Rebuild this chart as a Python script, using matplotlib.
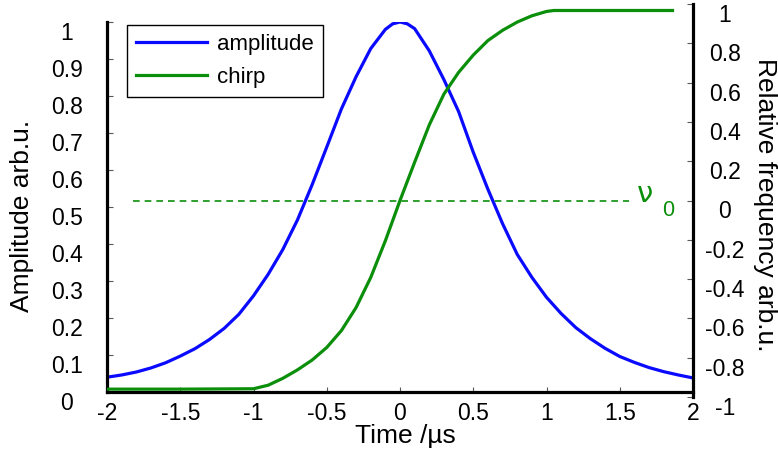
import matplotlib
matplotlib.use("Agg")
import matplotlib.pyplot as plt

# amplitude pulse (left axis)
time_amp = [-2.0, -1.9, -1.8, -1.7, -1.6, -1.5, -1.4, -1.3, -1.2, -1.1, -1.0,
            -0.9, -0.8, -0.7, -0.6, -0.5, -0.4, -0.3, -0.2, -0.1, -0.05, 0.0,
            0.05, 0.1, 0.2, 0.3, 0.4, 0.5, 0.6, 0.7, 0.8, 0.9, 1.0,
            1.1, 1.2, 1.3, 1.4, 1.5, 1.6, 1.7, 1.8, 1.9, 2.0]
amplitude = [0.040, 0.046, 0.054, 0.065, 0.079, 0.097, 0.117, 0.142, 0.172, 0.210, 0.260,
             0.318, 0.385, 0.465, 0.560, 0.662, 0.765, 0.852, 0.928, 0.980, 0.995, 1.000,
             0.995, 0.982, 0.922, 0.844, 0.758, 0.648, 0.548, 0.455, 0.372, 0.310, 0.256,
             0.212, 0.174, 0.144, 0.118, 0.096, 0.080, 0.066, 0.055, 0.046, 0.038]

# chirp (right axis)
time_chirp = [-2.0, -1.5, -1.0, -0.9, -0.8, -0.7, -0.6, -0.5, -0.4, -0.3, -0.2, -0.1, 0.0,
              0.1, 0.2, 0.3, 0.4, 0.5, 0.6, 0.7, 0.8, 0.9, 1.0, 1.05, 1.86]
chirp = [-0.960, -0.960, -0.958, -0.940, -0.905, -0.862, -0.812, -0.748, -0.662, -0.545,
         -0.392, -0.205, 0.000, 0.195, 0.385, 0.542, 0.652, 0.740, 0.814, 0.866, 0.908,
         0.940, 0.962, 0.967, 0.967]

x_ticks = [-2, -1.5, -1, -0.5, 0, 0.5, 1, 1.5, 2]
x_labels = ["-2", "-1.5", "-1", "-0.5", "0", "0.5", "1", "1.5", "2"]
left_ticks = [0, 0.1, 0.2, 0.3, 0.4, 0.5, 0.6, 0.7, 0.8, 0.9, 1]
left_labels = ["0", "0.1", "0.2", "0.3", "0.4", "0.5", "0.6", "0.7", "0.8", "0.9", "1"]
right_ticks = [-1, -0.8, -0.6, -0.4, -0.2, 0, 0.2, 0.4, 0.6, 0.8, 1]
right_labels = ["-1", "-0.8", "-0.6", "-0.4", "-0.2", "0", "0.2", "0.4", "0.6", "0.8", "1"]

blue = "#0a0aff"
green = "#0b8f0b"

plt.rcParams["font.family"] = ["Liberation Sans", "DejaVu Sans"]
plt.rcParams["axes.unicode_minus"] = False

W, H = 778, 459
fig = plt.figure(figsize=(W / 100, H / 100), dpi=100)


def box(l, t, r, b):
    return [l / W, 1 - b / H, (r - l) / W, (b - t) / H]


ax1 = fig.add_axes(box(107, 22, 693, 392))
ax2 = fig.add_axes(box(107, 4, 693, 397))
ax2.patch.set_visible(False)

l1, = ax1.plot(time_amp, amplitude, color=blue, lw=2.3, label="amplitude")
l2, = ax2.plot(time_chirp, chirp, color=green, lw=2.3, label="chirp")
ax2.hlines(0, -1.82, 1.56, colors=green, lw=1.2, linestyles=(0, (4, 3)))

ax2.text(1.618, -0.007, "\u03bd", color=green, fontsize=21, family="DejaVu Sans",
         va="baseline", ha="left")
ax2.text(1.79, -0.081, "0", color=green, fontsize=15.5, va="baseline", ha="left")

for ax in (ax1, ax2):
    ax.set_xlim(-2, 2)
ax1.set_ylim(0, 1)
ax2.set_ylim(-1, 1)

# spines
ax1.spines["top"].set_visible(False)
ax1.spines["right"].set_visible(False)
ax1.spines["left"].set_linewidth(2.3)
ax1.spines["bottom"].set_linewidth(2.3)
for s in ("top", "left", "bottom"):
    ax2.spines[s].set_visible(False)
ax2.spines["right"].set_linewidth(2.3)

ax1.set_xticks(x_ticks)
ax1.set_xticklabels(x_labels)
ax1.set_yticks(left_ticks)
ax1.set_yticklabels(left_labels)
ax1.tick_params(axis="x", direction="in", length=3.5, width=0.8, color="0.35",
                labelsize=16.5, pad=7.5)
ax1.tick_params(axis="y", direction="in", length=4.5, width=0.8, color="0.35",
                labelsize=16.5, pad=29)
for lab in ax1.get_yticklabels():
    lab.set_horizontalalignment("center")
    lab.set_verticalalignment("top")

ax2.xaxis.set_visible(False)
ax2.yaxis.tick_right()
ax2.set_yticks(right_ticks)
ax2.set_yticklabels(right_labels)
ax2.tick_params(axis="y", direction="in", length=4.5, width=0.8, color="0.35",
                labelsize=16.5, pad=23)
for lab in ax2.get_yticklabels():
    lab.set_horizontalalignment("center")
    lab.set_verticalalignment("top")

ax1.set_xlabel("Time /\u00b5s", fontsize=19, va="center")
ax1.xaxis.set_label_coords(0.51, -0.119)
ax1.set_ylabel("Amplitude arb.u.", fontsize=19, va="center")
ax1.yaxis.set_label_coords(-0.145, 0.476)
ax2.yaxis.set_label_position("right")
ax2.set_ylabel("Relative frequency arb.u.", fontsize=19, rotation=-90,
               va="center", ha="center")
ax2.yaxis.set_label_coords(1.123, 0.49)

leg = ax2.legend(handles=[l1, l2], loc="upper left", fontsize=16,
                 bbox_to_anchor=(127 / W, 1 - 25 / H), bbox_transform=fig.transFigure,
                 borderaxespad=0, fancybox=False, framealpha=1, edgecolor="black",
                 handlelength=3.2, handletextpad=0.45, labelspacing=0.55,
                 borderpad=0.4)
leg.get_frame().set_linewidth(1.0)

fig.savefig("out.png", dpi=100)
